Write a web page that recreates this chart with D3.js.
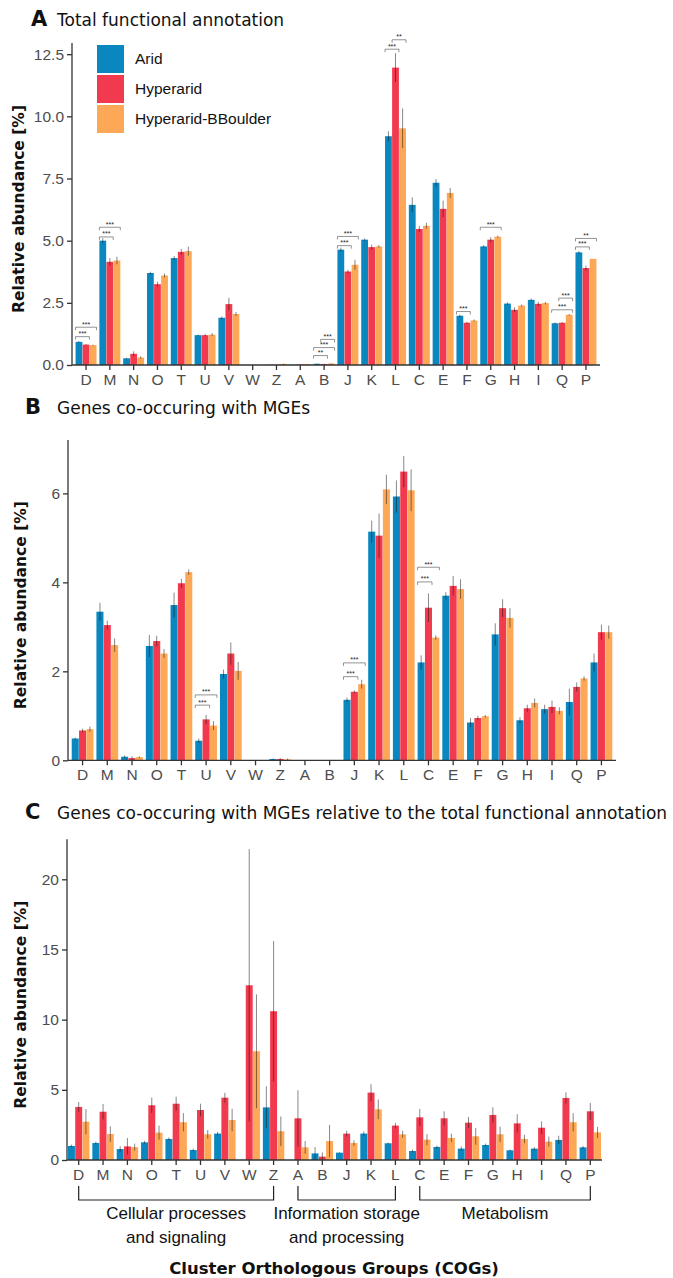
<!DOCTYPE html>
<html>
<head>
<meta charset="utf-8">
<script src="https://cdn.jsdelivr.net/npm/d3@7"></script>
<style>
  html, body { margin: 0; padding: 0; background: #fff; }
  svg { display: block; }
</style>
</head>
<body>
<div id="chart"></div>
<script>
// COG categories, in plotting order
const categories = ["D", "M", "N", "O", "T", "U", "V", "W", "Z", "A", "B", "J", "K", "L", "C", "E", "F", "G", "H", "I", "Q", "P"];
const seriesNames = ["Arid", "Hyperarid", "Hyperarid-BBoulder"];
const seriesColors = ["#0a87bf", "#f23a4e", "#fda857"];

// A: total functional annotation (%)
const totalArid = [0.93, 5.0, 0.27, 3.7, 4.3, 1.2, 1.9, 0, 0.01, 0.01, 0.05, 4.64, 5.04, 9.2, 6.44, 7.33, 1.98, 4.77, 2.47, 2.62, 1.68, 4.53];
const totalHyper = [0.82, 4.15, 0.45, 3.25, 4.55, 1.2, 2.45, 0, 0.01, 0.02, 0.04, 3.76, 4.74, 11.96, 5.47, 6.28, 1.7, 5.04, 2.22, 2.46, 1.7, 3.9];
const totalBoulder = [0.8, 4.2, 0.3, 3.6, 4.58, 1.22, 2.05, 0, 0.04, 0.03, 0.06, 4.03, 4.77, 9.52, 5.6, 6.92, 1.79, 5.16, 2.39, 2.49, 2.02, 4.27];
const totalAridErr = [0.03, 0.1, 0.02, 0.05, 0.08, 0.03, 0.05, 0, 0, 0, 0.01, 0.08, 0.05, 0.2, 0.3, 0.15, 0.05, 0.05, 0.05, 0.05, 0.03, 0.05];
const totalHyperErr = [0.02, 0.15, 0.1, 0.1, 0.12, 0.05, 0.25, 0, 0, 0, 0.01, 0.07, 0.1, 0.58, 0.12, 0.33, 0.04, 0.1, 0.1, 0.08, 0.03, 0.1];
const totalBoulderErr = [0.02, 0.15, 0.05, 0.08, 0.18, 0.06, 0.08, 0, 0.02, 0.01, 0.01, 0.2, 0.05, 0.8, 0.12, 0.2, 0.04, 0.04, 0.04, 0.05, 0.03, 0];

// B: genes co-occurring with MGEs (%)
const mgeArid = [0.49, 3.34, 0.08, 2.57, 3.49, 0.44, 1.94, 0, 0.03, 0, 0, 1.36, 5.14, 5.93, 2.2, 3.7, 0.85, 2.83, 0.9, 1.15, 1.31, 2.2];
const mgeHyper = [0.67, 3.04, 0.05, 2.68, 3.98, 0.92, 2.4, 0, 0.03, 0, 0, 1.54, 5.05, 6.49, 3.43, 3.92, 0.95, 3.42, 1.17, 1.2, 1.65, 2.88];
const mgeBoulder = [0.7, 2.59, 0.07, 2.4, 4.23, 0.78, 2.01, 0, 0.02, 0, 0, 1.71, 6.09, 6.07, 2.76, 3.85, 0.99, 3.2, 1.29, 1.11, 1.84, 2.88];
const mgeAridErr = [0.02, 0.2, 0.03, 0.25, 0.28, 0.05, 0.1, 0, 0.01, 0, 0, 0.05, 0.25, 0.36, 0.16, 0.08, 0.1, 0.25, 0.07, 0.1, 0.3, 0.2];
const mgeHyperErr = [0.04, 0.1, 0.04, 0.12, 0.1, 0.1, 0.25, 0, 0.02, 0, 0, 0.03, 0.5, 0.35, 0.32, 0.22, 0.05, 0.2, 0.08, 0.14, 0.1, 0.17];
const mgeBoulderErr = [0.06, 0.15, 0.02, 0.1, 0.06, 0.1, 0.2, 0, 0.02, 0, 0, 0.1, 0.33, 0.47, 0.05, 0.22, 0.03, 0.22, 0.1, 0.08, 0.05, 0.15];

// C: MGE genes relative to the total annotation (%)
const relArid = [1.0, 1.21, 0.78, 1.26, 1.5, 0.71, 1.88, 0, 3.75, 0, 0.47, 0.52, 1.88, 1.19, 0.64, 0.93, 0.81, 1.07, 0.69, 0.81, 1.43, 0.9];
const relHyper = [3.78, 3.44, 0.97, 3.9, 4.01, 3.56, 4.44, 12.45, 10.6, 2.97, 0.24, 1.88, 4.8, 2.45, 3.04, 2.97, 2.66, 3.21, 2.61, 2.3, 4.42, 3.47];
const relBoulder = [2.73, 1.85, 0.92, 1.95, 2.69, 1.83, 2.85, 7.75, 2.05, 0.9, 1.35, 1.21, 3.61, 1.83, 1.45, 1.57, 1.69, 1.83, 1.5, 1.31, 2.69, 1.97];
const relAridErr = [0.1, 0.1, 0.2, 0.1, 0.1, 0.1, 0.12, 0, 1.5, 0, 0.45, 0.03, 0.15, 0.05, 0.1, 0.1, 0.15, 0.1, 0.05, 0.1, 0.3, 0.1];
const relHyperErr = [0.35, 0.55, 0.6, 0.55, 0.5, 0.45, 0.35, 9.7, 5.0, 2.0, 0.3, 0.2, 0.6, 0.2, 0.6, 0.5, 0.4, 0.55, 0.65, 0.45, 0.4, 0.6];
const relBoulderErr = [0.9, 0.55, 0.25, 0.5, 0.65, 0.3, 0.8, 4.05, 1.05, 0.45, 1.15, 0.2, 0.7, 0.25, 0.4, 0.3, 0.6, 0.55, 0.3, 0.35, 0.65, 0.4];

// significance brackets: [category, from series, to series, height, label]
const sigTotal = [
  ["D", 0, 1, 1.14, "***"], ["D", 0, 2, 1.52, "***"],
  ["M", 0, 1, 5.15, "***"], ["M", 0, 2, 5.54, "***"],
  ["B", 0, 1, 0.38, "**"], ["B", 0, 2, 0.7, "***"], ["B", 1, 2, 1.03, "***"],
  ["J", 0, 1, 4.8, "***"], ["J", 0, 2, 5.17, "***"],
  ["L", 0, 1, 12.7, "***"], ["L", 1, 2, 13.08, "**"],
  ["F", 0, 1, 2.15, "***"], ["G", 0, 2, 5.54, "***"],
  ["Q", 0, 2, 2.22, "***"], ["Q", 1, 2, 2.69, "***"],
  ["P", 0, 1, 4.75, "***"], ["P", 0, 2, 5.09, "**"],
];
const sigMge = [
  ["U", 0, 1, 1.24, "***"], ["U", 0, 2, 1.47, "***"],
  ["J", 0, 1, 1.88, "***"], ["J", 0, 2, 2.19, "***"],
  ["C", 0, 1, 4.01, "***"], ["C", 0, 2, 4.34, "***"],
];

const totalTicks = [0, 2.5, 5, 7.5, 10, 12.5];
const mgeTicks = [0, 2, 4, 6];
const relTicks = [0, 5, 10, 15, 20];

const cogGroups = [
  { lines: ["Cellular processes", "and signaling"], from: "D", to: "Z" },
  { lines: ["Information storage", "and processing"], from: "A", to: "L" },
  { lines: ["Metabolism"], from: "C", to: "P" },
];

const width = 673, height = 1278;
const tickFont = "'Liberation Sans', Arial, sans-serif";
const titleFont = "'DejaVu Sans', Verdana, sans-serif";

const panels = [
  {
    letter: "A", title: "Total functional annotation", titleY: 26,
    values: [totalArid, totalHyper, totalBoulder],
    errors: [totalAridErr, totalHyperErr, totalBoulderErr],
    xRange: [72, 600], yDomain: [0, 12.95], yRange: [365, 43],
    ticks: totalTicks, fmt: d3.format(".1f"), sig: sigTotal, po: 0.15,
  },
  {
    letter: "B", title: "Genes co-occuring with MGEs", titleY: 414,
    values: [mgeArid, mgeHyper, mgeBoulder],
    errors: [mgeAridErr, mgeHyperErr, mgeBoulderErr],
    xRange: [68, 616], yDomain: [0, 7.2], yRange: [760.3, 440],
    ticks: mgeTicks, fmt: d3.format("d"), sig: sigMge, po: 0.15,
  },
  {
    letter: "C", title: "Genes co-occuring with MGEs relative to the total functional annotation", titleY: 819,
    values: [relArid, relHyper, relBoulder],
    errors: [relAridErr, relHyperErr, relBoulderErr],
    xRange: [67, 602], yDomain: [0, 22.85], yRange: [1160, 839.3],
    ticks: relTicks, fmt: d3.format("d"), sig: [], po: 0.04,
  },
];

const svg = d3.select("#chart").append("svg")
  .attr("width", width).attr("height", height)
  .attr("viewBox", `0 0 ${width} ${height}`);

let lastX = null;

panels.forEach((p, pi) => {
  const x = d3.scaleBand().domain(categories).range(p.xRange)
    .paddingInner(0.12).paddingOuter(p.po);
  const xs = d3.scaleBand().domain(d3.range(seriesNames.length))
    .range([0, x.bandwidth()]).paddingInner(0.04);
  const y = d3.scaleLinear().domain(p.yDomain).range(p.yRange);
  if (pi === 2) lastX = x;

  // title
  const title = svg.append("text")
    .attr("x", pi === 0 ? 31 : 25).attr("y", p.titleY)
    .attr("font-family", titleFont).attr("font-size", 17).attr("fill", "#111");
  title.append("tspan").attr("font-weight", "bold").attr("font-size", 21).text(p.letter);
  title.append("tspan").attr("x", 57).text(p.title);

  // bars
  const flat = [];
  p.values.forEach((vals, si) => vals.forEach((v, ci) => {
    flat.push({ cat: categories[ci], si, v, e: p.errors[si][ci] });
  }));

  const g = svg.append("g");
  g.selectAll("rect.bar").data(flat).join("rect")
    .attr("class", "bar")
    .attr("x", (d) => x(d.cat) + xs(d.si))
    .attr("width", xs.bandwidth())
    .attr("y", (d) => y(d.v))
    .attr("height", (d) => y(0) - y(d.v))
    .attr("fill", (d) => seriesColors[d.si]);

  // error bars
  g.selectAll("line.err").data(flat.filter((d) => d.e > 0)).join("line")
    .attr("class", "err")
    .attr("x1", (d) => x(d.cat) + xs(d.si) + xs.bandwidth() / 2)
    .attr("x2", (d) => x(d.cat) + xs(d.si) + xs.bandwidth() / 2)
    .attr("y1", (d) => y(Math.max(0, d.v - d.e)))
    .attr("y2", (d) => y(d.v + d.e))
    .attr("stroke", "#111").attr("stroke-opacity", 0.5).attr("stroke-width", 1);

  // significance brackets
  const sg = g.selectAll("g.sig").data(p.sig).join("g").attr("class", "sig");
  sg.append("path")
    .attr("d", (d) => {
      const x0 = x(d[0]) + xs(d[1]);
      const x1 = x(d[0]) + xs(d[2]) + xs.bandwidth();
      const yy = y(d[3]);
      return `M${x0},${yy + 3}V${yy}H${x1}V${yy + 3}`;
    })
    .attr("fill", "none").attr("stroke", "#777").attr("stroke-width", 0.8);
  sg.append("text")
    .attr("x", (d) => (x(d[0]) + xs(d[1]) + x(d[0]) + xs(d[2]) + xs.bandwidth()) / 2)
    .attr("y", (d) => y(d[3]) - 0.5)
    .attr("text-anchor", "middle")
    .attr("font-family", tickFont).attr("font-size", 7).attr("fill", "#222")
    .text((d) => d[4]);

  // axes
  const yAxis = svg.append("g")
    .attr("transform", `translate(${p.xRange[0]},0)`)
    .call(d3.axisLeft(y).tickValues(p.ticks).tickFormat(p.fmt).tickSize(5).tickPadding(3));
  const xAxis = svg.append("g")
    .attr("transform", `translate(0,${p.yRange[0]})`)
    .call(d3.axisBottom(x).tickSize(5).tickPadding(4));
  [yAxis, xAxis].forEach((ax) => {
    ax.select(".domain").attr("stroke", "#333").attr("stroke-width", 1.3);
    ax.selectAll(".tick line").attr("stroke", "#333").attr("stroke-width", 1.3);
    ax.selectAll("text").attr("font-family", tickFont).attr("font-size", 15.5).attr("fill", "#4d4d4d");
  });
  xAxis.select(".domain").attr("d", `M${p.xRange[0]},0H${p.xRange[1]}`);
  yAxis.select(".domain").attr("d", `M0,${p.yRange[0]}V${p.yRange[1]}`);

  // y title
  const cy = (p.yRange[0] + p.yRange[1]) / 2 + 5;
  svg.append("text")
    .attr("transform", `translate(${pi === 0 ? 24 : 26},${cy}) rotate(-90)`)
    .attr("text-anchor", "middle")
    .attr("font-family", titleFont).attr("font-weight", "bold").attr("font-size", 15.5)
    .attr("fill", "#111")
    .text("Relative abundance [%]");
});

// legend (panel A)
const legend = svg.append("g").selectAll("g").data(seriesNames).join("g")
  .attr("transform", (d, i) => `translate(97,${45 + i * 30})`);
legend.append("rect").attr("width", 27).attr("height", 28)
  .attr("fill", (d, i) => seriesColors[i]);
legend.append("text").attr("x", 38).attr("y", 14).attr("dy", "0.35em")
  .attr("font-family", tickFont).attr("font-size", 15.5).attr("fill", "#111")
  .text((d) => d);

// COG group brackets under panel C
const grp = svg.append("g").selectAll("g").data(cogGroups).join("g");
grp.append("path")
  .attr("d", (d) => {
    const x0 = lastX(d.from) + lastX.bandwidth() / 2;
    const x1 = lastX(d.to) + lastX.bandwidth() / 2;
    return `M${x0},1186V1200H${x1}V1186`;
  })
  .attr("fill", "none").attr("stroke", "#222").attr("stroke-width", 1.2);
grp.each(function (d) {
  const cx = (lastX(d.from) + lastX(d.to) + lastX.bandwidth()) / 2;
  d3.select(this).selectAll("text").data(d.lines).join("text")
    .attr("x", cx).attr("y", (l, i) => 1219 + i * 24)
    .attr("text-anchor", "middle")
    .attr("font-family", tickFont).attr("font-size", 17).attr("fill", "#111")
    .text((l) => l);
});

svg.append("text")
  .attr("x", 334).attr("y", 1274).attr("text-anchor", "middle")
  .attr("font-family", titleFont).attr("font-weight", "bold").attr("font-size", 16.5)
  .attr("fill", "#111")
  .text("Cluster Orthologous Groups (COGs)");
</script>
</body>
</html>
